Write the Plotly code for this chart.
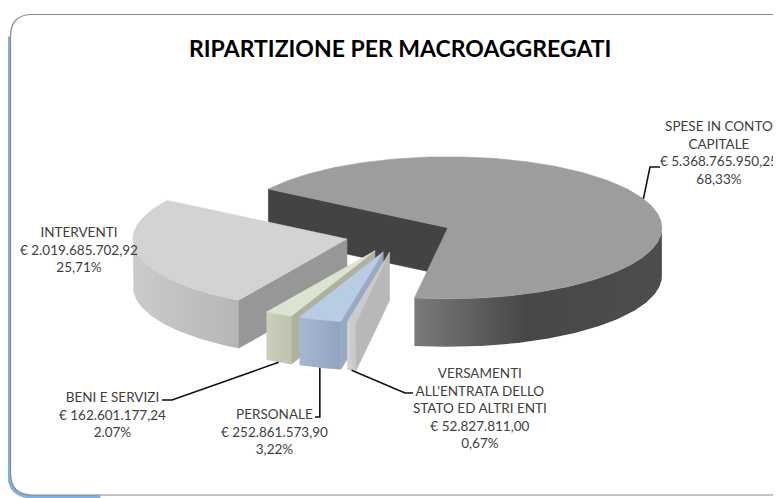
import numpy as np
import plotly.graph_objects as go

# ---------------- data ----------------
categories = ["SPESE IN CONTO CAPITALE",
              "VERSAMENTI ALL'ENTRATA DELLO STATO ED ALTRI ENTI",
              "PERSONALE",
              "BENI E SERVIZI",
              "INTERVENTI"]
amounts = [5368765950.25, 52827811.00, 252861573.90, 162601177.24, 2019685702.92]
amount_labels = ["€ 5.368.765.950,25", "€ 52.827.811,00", "€ 252.861.573,90",
                 "€ 162.601.177,24", "€ 2.019.685.702,92"]
percent_labels = ["68,33%", "0,67%", "3,22%", "2.07%", "25,71%"]
name_lines = [["SPESE IN CONTO", "CAPITALE"],
              ["VERSAMENTI", "ALL'ENTRATA DELLO", "STATO ED ALTRI ENTI"],
              ["PERSONALE"],
              ["BENI E SERVIZI"],
              ["INTERVENTI"]]
title_text = "RIPARTIZIONE PER MACROAGGREGATI"

# ---------------- geometry / style ----------------
W, H = 781, 498
OFF = 8                    # page body margin
CX, CY = 399, 235          # pie centre (page pixels)
RX, RY = 214, 71           # ellipse radii of the tilted pie
DEPTH = 48                 # thickness
EXPLODE = 0.25             # explosion as a fraction of the radius
START = 213.0              # start angle (deg, clockwise from 3 o'clock)

styles = [
    dict(top="#9d9d9d", cut="#434343", side=[[0, "#7a7a7a"], [0.45, "#474747"], [1, "#4d4d4d"]]),
    dict(top="#cbcbcb", cut="#b8b8b8", side=[[0, "#d4d4d4"], [1, "#c6c6c6"]]),
    dict(top="#b8cce4", cut="#98a9c2", side=[[0, "#a6b8d1"], [1, "#91a3bf"]]),
    dict(top="#dce3d0", cut="#adb29e", side=[[0, "#cacfbc"], [1, "#bec3ae"]]),
    dict(top="#d3d3d3", cut="#979797", side=[[0, "#cbcbcb"], [1, "#b6b6b6"]]),
]

# label placement: centre of text block, leader elbow and end (None = vertical from anchor)
label_pos = [
    dict(x=719, y=152.5, anchor="top", elbow=(650, 167), end=(660, 167)),
    dict(x=480, y=408, anchor="bottom", elbow=(405, 393), end=(413, 393)),
    dict(x=274, y=431.5, anchor="bottom", elbow=(None, 417), end=(315, 417)),
    dict(x=112, y=414.5, anchor="bottom", elbow=(172, 400), end=(162, 400)),
    dict(x=79, y=249, anchor=None, elbow=None, end=None),
]
LABEL_FONT = dict(family="Lato, Carlito, sans-serif", size=13.5, color="#404040")

# ---------------- build ----------------
vals = np.array(amounts, dtype=float)
fracs = vals / vals.sum()
ends = START + np.cumsum(fracs) * 360.0
starts = np.concatenate([[START], ends[:-1]])


def pt(cx, cy, th):
    r = np.radians(th)
    return cx + RX * np.cos(r), cy + RY * np.sin(r)


def arc(cx, cy, t0, t1):
    n = max(3, int(abs(t1 - t0) / 1.0) + 2)
    th = np.radians(np.linspace(t0, t1, n))
    return cx + RX * np.cos(th), cy + RY * np.sin(th)


fig = go.Figure()


def poly(xs, ys, color=None, gradient=None):
    kw = dict(x=list(xs) + [xs[0]], y=list(ys) + [ys[0]], mode="lines", fill="toself",
              hoverinfo="skip", showlegend=False)
    if gradient is not None:
        kw["fillgradient"] = dict(type="horizontal", colorscale=gradient)
        kw["line"] = dict(width=0)
    else:
        kw["fillcolor"] = color
        kw["line"] = dict(color=color, width=0.6)
    fig.add_trace(go.Scatter(**kw))


apexes = []
for i in range(len(vals)):
    mid = (starts[i] + ends[i]) / 2
    r = np.radians(mid)
    apexes.append((CX + EXPLODE * RX * np.cos(r), CY + EXPLODE * RY * np.sin(r)))


def angdist(a):
    d = (a - 90.0) % 360.0
    return min(d, 360.0 - d)


order = sorted(range(len(vals)), key=lambda i: -angdist((starts[i] + ends[i]) / 2))

for i in order:
    a0, a1 = starts[i], ends[i]
    ax, ay = apexes[i]
    st = styles[i]
    # radial cut faces
    for a, visible in ((a0, np.cos(np.radians(a0)) < 0), (a1, np.cos(np.radians(a1)) > 0)):
        if visible:
            rx_, ry_ = pt(ax, ay, a)
            poly([ax, rx_, rx_, ax], [ay, ry_, ry_ + DEPTH, ay + DEPTH], color=st["cut"])
    # outer front wall
    for k in range(-1, 3):
        lo, hi = max(a0, 360 * k), min(a1, 360 * k + 180)
        if hi > lo:
            xs, ys = arc(ax, ay, lo, hi)
            px = np.concatenate([xs, xs[::-1]])
            py = np.concatenate([ys, ys[::-1] + DEPTH])
            poly(px, py, gradient=st["side"])
    # top face
    xs, ys = arc(ax, ay, a0, a1)
    poly(np.concatenate([[ax], xs]), np.concatenate([[ay], ys]), color=st["top"])

annotations = []
shapes = []
for i in range(len(vals)):
    lp = label_pos[i]
    text = "<br>".join(name_lines[i] + [amount_labels[i], percent_labels[i]])
    annotations.append(dict(x=lp["x"], y=lp["y"], xref="x", yref="y", text=text,
                            showarrow=False, xanchor="center", yanchor="middle",
                            align="center", font=LABEL_FONT))
    if lp["anchor"] is None:
        continue
    mid = (starts[i] + ends[i]) / 2
    sx, sy = pt(apexes[i][0], apexes[i][1], mid)
    if lp["anchor"] == "bottom":
        sy = sy + DEPTH
    ex = lp["elbow"][0] if lp["elbow"][0] is not None else sx
    ey = lp["elbow"][1]
    endx = lp["end"][0]
    fig.add_trace(go.Scatter(x=[sx, ex, endx], y=[sy, ey, ey], mode="lines",
                             line=dict(color="#111111", width=1.6),
                             hoverinfo="skip", showlegend=False))

annotations.append(dict(x=400, y=48, xref="x", yref="y", text="<b>" + title_text + "</b>",
                        showarrow=False, xanchor="center", yanchor="middle",
                        font=dict(family="Lato, Carlito, sans-serif", size=23, color="#000000")))

# rounded frame with blue shadow
x0, y0, x1, y1, rr = 10.5, 14.5, 800, 495, 22


def rpath(x0, y0, x1, y1, r):
    return (f"M {x0 + r},{y0} L {x1 - r},{y0} Q {x1},{y0} {x1},{y0 + r} "
            f"L {x1},{y1 - r} Q {x1},{y1} {x1 - r},{y1} L {x0 + r},{y1} "
            f"Q {x0},{y1} {x0},{y1 - r} L {x0},{y0 + r} Q {x0},{y0} {x0 + r},{y0} Z")


shapes.append(dict(type="path", xref="x", yref="y", layer="below",
                   path=(f"M {x0 - 1.5},{y0 + rr} L {x0 - 1.5},{y1 - rr} "
                         f"Q {x0 - 1.5},{y1 + 1.5} {x0 + rr},{y1 + 1.5} L {x0 + 90},{y1 + 1.5}"),
                   line=dict(color="#7fb0df", width=3.5)))
shapes.append(dict(type="path", xref="x", yref="y", layer="below",
                   path=rpath(x0, y0, x1, y1, rr),
                   line=dict(color="#8a8a8a", width=1.2), fillcolor="rgba(255,255,255,1)"))

fig.update_layout(
    width=W - OFF, height=H - OFF, margin=dict(l=0, r=0, t=0, b=0),
    paper_bgcolor="white", plot_bgcolor="white",
    xaxis=dict(range=[OFF, W], visible=False, fixedrange=True),
    yaxis=dict(range=[H, OFF], visible=False, fixedrange=True),
    annotations=annotations, shapes=shapes, showlegend=False,
)

fig.write_html("out.html")
